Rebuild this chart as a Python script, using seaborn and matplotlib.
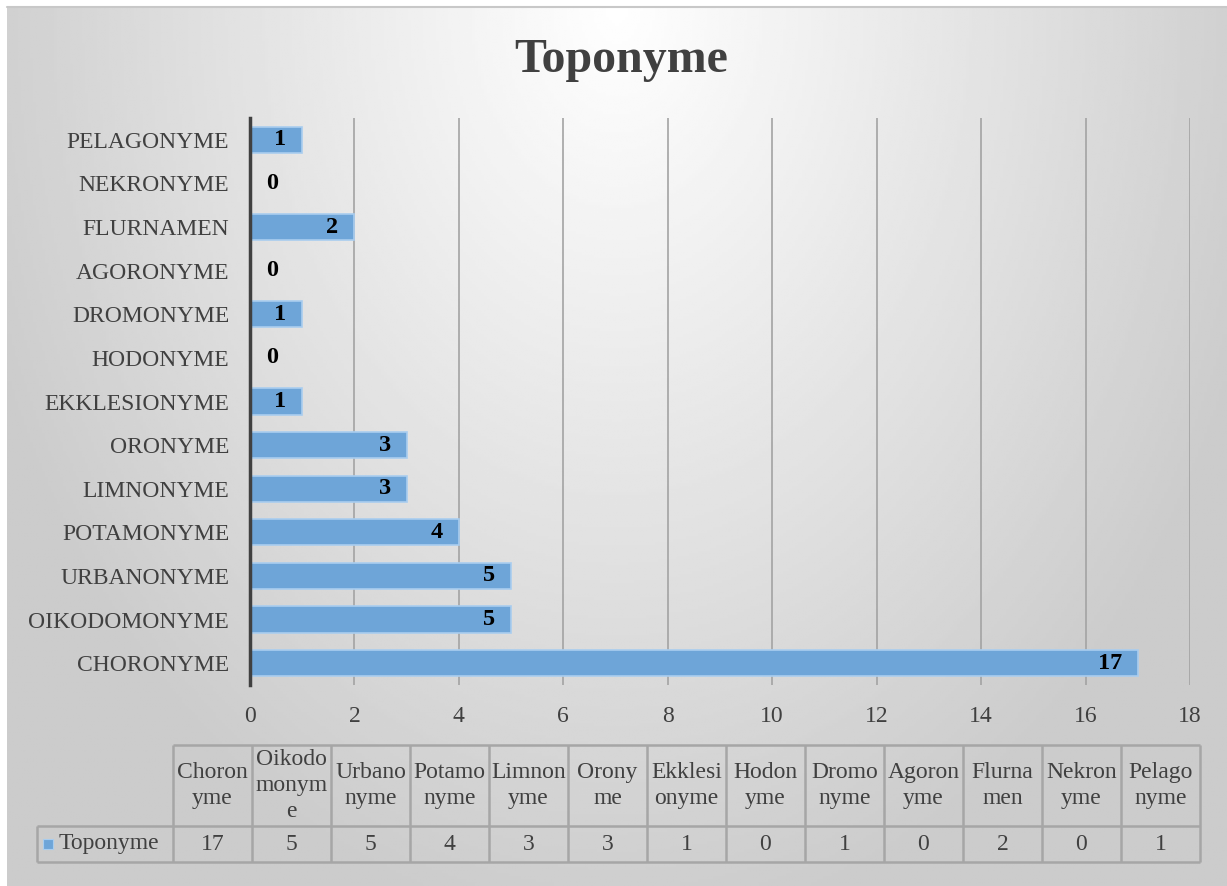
import matplotlib.pyplot as plt
import numpy as np
import pandas as pd
import seaborn as sns
from matplotlib.lines import Line2D
from matplotlib.patches import Rectangle

# data, in table order (first entry sits at the bottom of the bar chart)
categories = ["CHORONYME", "OIKODOMONYME", "URBANONYME", "POTAMONYME", "LIMNONYME",
              "ORONYME", "EKKLESIONYME", "HODONYME", "DROMONYME", "AGORONYME",
              "FLURNAMEN", "NEKRONYME", "PELAGONYME"]
table_labels = ["Choron\nyme", "Oikodo\nmonym\ne", "Urbano\nnyme", "Potamo\nnyme", "Limnon\nyme",
                "Orony\nme", "Ekklesi\nonyme", "Hodon\nyme", "Dromo\nnyme", "Agoron\nyme",
                "Flurna\nmen", "Nekron\nyme", "Pelago\nnyme"]
values = [17, 5, 5, 4, 3, 3, 1, 0, 1, 0, 2, 0, 1]
x_ticks = [0, 2, 4, 6, 8, 10, 12, 14, 16, 18]
series_name = "Toponyme"
title = "Toponyme"

sns.set_theme(style="white")
plt.rcParams['font.family'] = ['Liberation Serif', 'DejaVu Serif']

W, H = 1227, 886
fig = plt.figure(figsize=(W / 100, H / 100), dpi=100)
fig.patch.set_facecolor('white')

# radial grey background of the chart area
bg = fig.add_axes([7 / W, 0, 1 - 7 / W, 1 - 7 / H], zorder=-10)
gx, gy = np.meshgrid(np.linspace(0, 1, 400), np.linspace(0, 1, 300))
dist = np.clip(np.sqrt(((gx - 0.5) / 0.55) ** 2 + (gy / 1.05) ** 2), 0, 1)
bg.imshow(1.0 - 0.2 * dist, cmap='gray', vmin=0, vmax=1, aspect='auto')
bg.axis('off')
fig.add_artist(Line2D([7 / W, 1], [1 - 7 / H, 1 - 7 / H], color='#c8c8c8', lw=1.5))

# bar chart
ax = fig.add_axes([250 / W, 1 - 685 / H, 940 / W, 567 / H])
ax.patch.set_alpha(0)
df = pd.DataFrame({'Category': categories, 'Value': values})
order = categories[::-1]
sns.barplot(data=df, x='Value', y='Category', order=order, orient='h', color='#6ea5d8',
            saturation=1, width=0.6, edgecolor='#a9cdef', linewidth=1.2, ax=ax, zorder=3)
ax.set_xlim(0, 18)
ax.set_xticks(x_ticks)
ax.grid(axis='x', color='#a3a3a3', lw=1.2)
ax.set_axisbelow(True)
ax.set_xlabel('')
ax.set_ylabel('')
for s in ['top', 'right', 'bottom']:
    ax.spines[s].set_visible(False)
ax.spines['left'].set_color('#404040')
ax.spines['left'].set_linewidth(2.5)
ax.spines['left'].set_zorder(5)
ax.tick_params(axis='x', length=0, labelsize=17, labelcolor='#404040', pad=15)
ax.tick_params(axis='y', length=0, labelsize=17, labelcolor='#404040', pad=15)

lookup = dict(zip(categories, values))
for i, cat in enumerate(order):
    v = lookup[cat]
    inside = v > 0
    ax.annotate(str(v), xy=(v, i), xytext=(-11.5 if inside else 11.5, 0),
                textcoords='offset points', ha='right' if inside else 'left', va='center',
                fontsize=17.5, fontweight='bold', color='black', zorder=6)

fig.text(621 / W, 1 - 60 / H, title, ha='center', va='center', fontsize=34.5,
         fontweight='bold', color='#404040')

# data table under the chart
n = len(categories)
leg_w = 136 / 79
top = 117 / 36
tax = fig.add_axes([37 / W, 1 - 862 / H, 1163 / W, 117 / H])
tax.set_xlim(-leg_w, n)
tax.set_ylim(0, top)
tax.axis('off')
lc = '#a6a6a6'
tax.hlines([0, 1], -leg_w, n, color=lc, lw=1.8, clip_on=False)
tax.hlines([top], 0, n, color=lc, lw=1.8, clip_on=False)
tax.vlines([-leg_w], 0, 1, color=lc, lw=1.8, clip_on=False)
tax.vlines(np.arange(n + 1), 0, top, color=lc, lw=1.8, clip_on=False)
for i in range(n):
    tax.text(i + 0.5, 1 + (top - 1) / 2, table_labels[i], ha='center', va='center',
             fontsize=17, color='#404040', linespacing=1.32)
    tax.text(i + 0.5, 0.5, str(values[i]), ha='center', va='center', fontsize=17, color='#404040')
tax.add_patch(Rectangle((-leg_w + 6 / 79, 0.5 - 5 / 36), 10 / 79, 10 / 36,
                        facecolor='#6ea5d8', edgecolor='#a9cdef', lw=0.8))
tax.text(-leg_w + 22 / 79, 0.5, series_name, ha='left', va='center', fontsize=17, color='#404040')

fig.savefig('out.png', dpi=100)
